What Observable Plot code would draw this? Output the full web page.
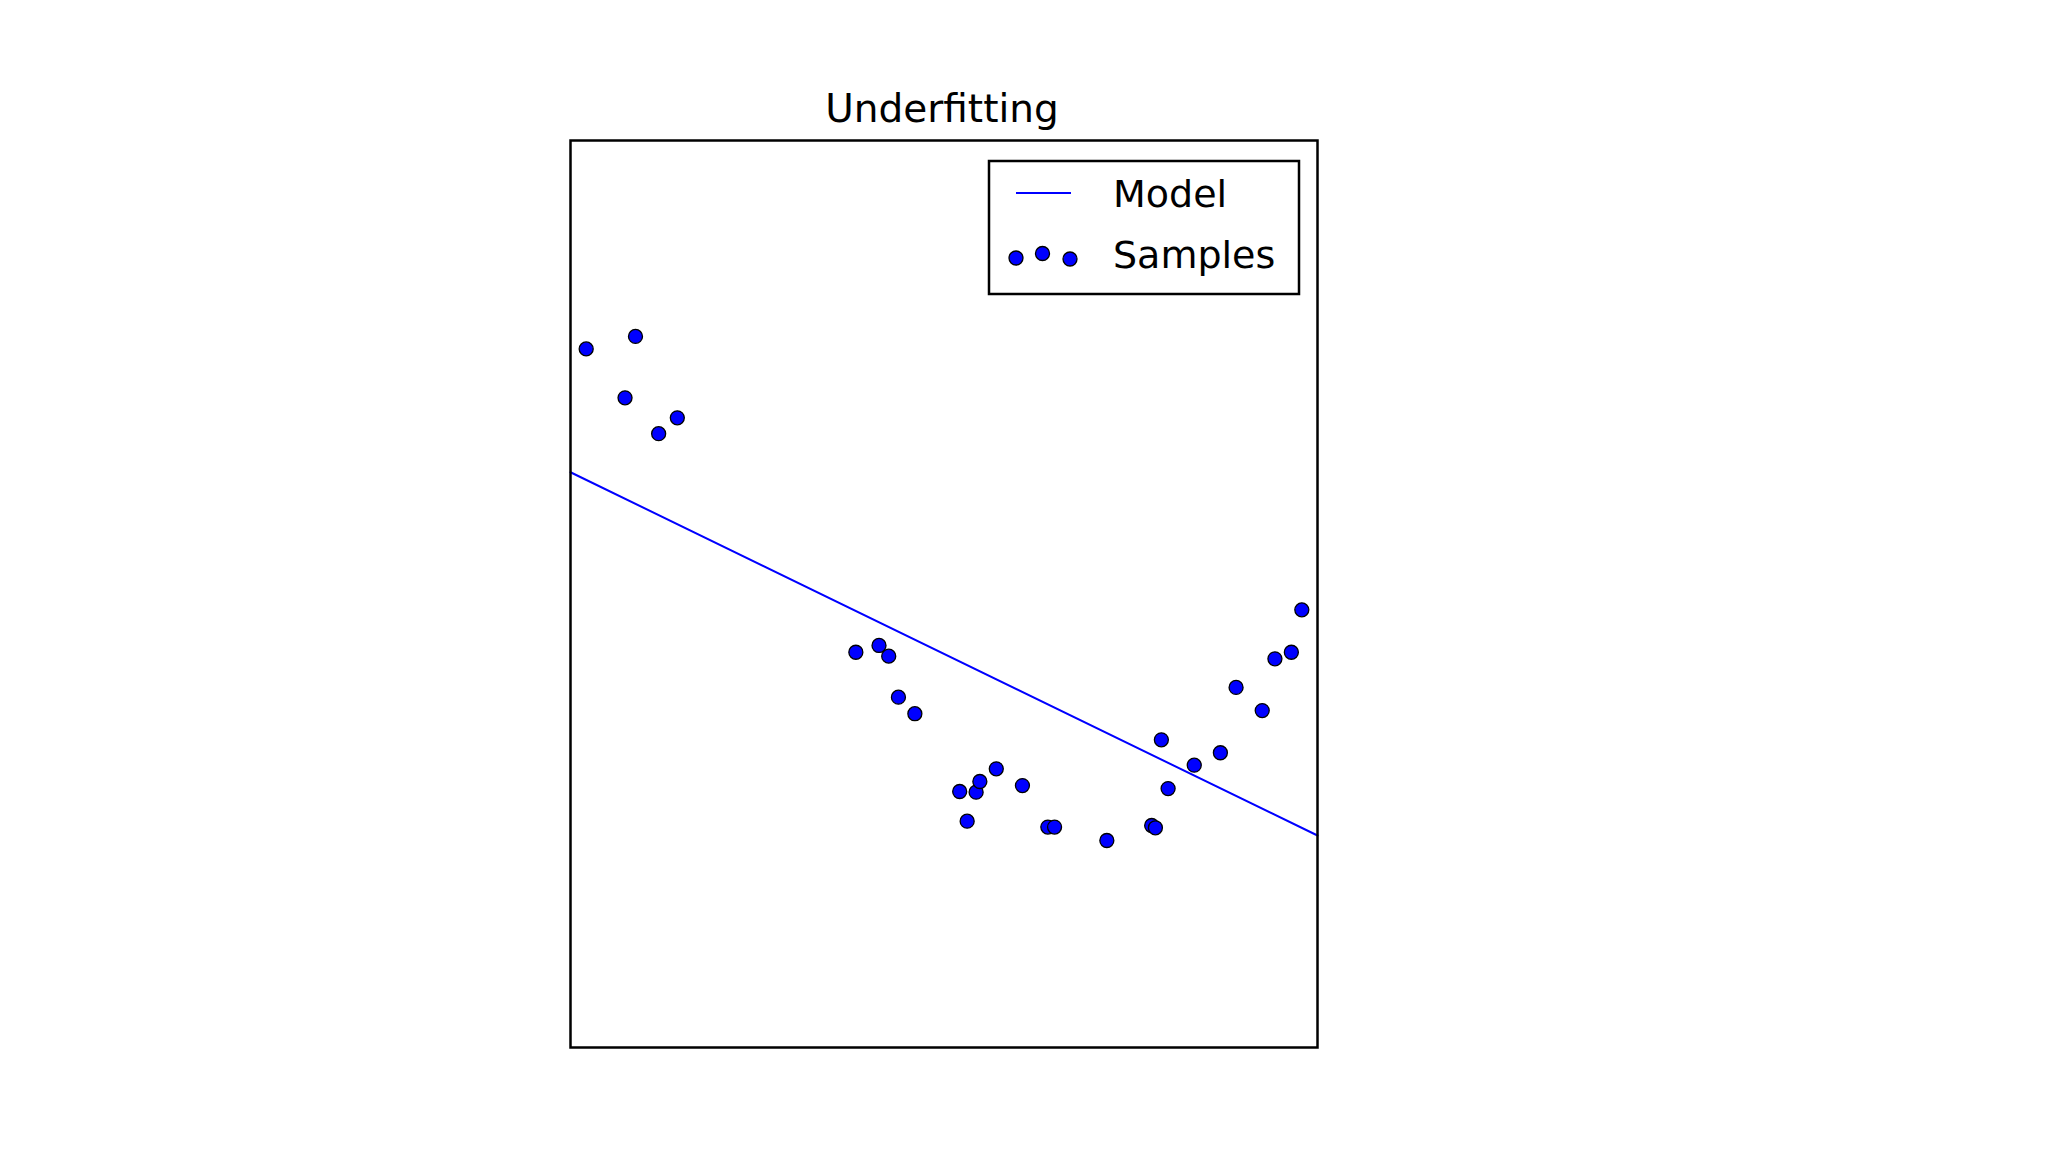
<!DOCTYPE html>
<html>
<head>
<meta charset="utf-8">
<script src="https://cdn.jsdelivr.net/npm/d3@7"></script>
<script src="https://cdn.jsdelivr.net/npm/@observablehq/plot@0.6"></script>
<style>
  html, body { margin: 0; padding: 0; background: #fff; }
  #wrap { position: relative; width: 2048px; height: 1152px; overflow: hidden; background: #fff; }
  #overlay { position: absolute; left: 0; top: 0; pointer-events: none; }
</style>
</head>
<body>
<div id="wrap"></div>
<script>
// ---- data ----
const chartTitle = "Underfitting";
const legendLabels = ["Model", "Samples"];

const sampleX = [0.021, 0.073, 0.087, 0.118, 0.143, 0.382, 0.413, 0.426, 0.439, 0.461,
                 0.521, 0.531, 0.543, 0.548, 0.570, 0.605, 0.639, 0.648, 0.718, 0.778,
                 0.783, 0.791, 0.800, 0.835, 0.870, 0.891, 0.926, 0.943, 0.965, 0.979];
const sampleY = [1.081, 0.865, 1.136, 0.707, 0.777, -0.257, -0.227, -0.274, -0.455, -0.528,
                 -0.871, -1.002, -0.874, -0.827, -0.771, -0.845, -1.028, -1.028, -1.087, -1.021,
                 -1.031, -0.643, -0.858, -0.755, -0.700, -0.412, -0.514, -0.286, -0.257, -0.070];

const modelX = [0, 1];
const modelY = [0.537, -1.065];

const samples = sampleX.map((x, i) => ({x, y: sampleY[i]}));
const model = modelX.map((x, i) => ({x, y: modelY[i]}));

const BLUE = "#0000ff";
const FONT = "'DejaVu Sans', sans-serif";

const chart = Plot.plot({
  width: 2048,
  height: 1152,
  marginLeft: 570,
  marginRight: 731,
  marginTop: 140,
  marginBottom: 105,
  style: {background: "#fff", fontFamily: FONT},
  x: {domain: [0, 1], axis: null},
  y: {domain: [-2, 2], axis: null},
  marks: [
    Plot.line(model, {x: "x", y: "y", stroke: BLUE, strokeWidth: 2}),
    Plot.dot(samples, {x: "x", y: "y", r: 7, fill: BLUE, stroke: "#000", strokeWidth: 1.3}),
    Plot.frame({stroke: "#000", strokeWidth: 2.5})
  ]
});

const wrap = document.getElementById("wrap");
wrap.appendChild(chart);

// ---- title and legend overlay ----
const ov = d3.select(wrap).append("svg")
  .attr("id", "overlay")
  .attr("width", 2048).attr("height", 1152)
  .style("font-family", FONT);

ov.append("text")
  .attr("x", 942).attr("y", 122)
  .attr("text-anchor", "middle")
  .attr("font-size", 39)
  .attr("fill", "#000")
  .text(chartTitle);

const lg = ov.append("g");
lg.append("rect")
  .attr("x", 989).attr("y", 161)
  .attr("width", 310).attr("height", 133)
  .attr("fill", "#fff").attr("stroke", "#000").attr("stroke-width", 2.5);

lg.append("line")
  .attr("x1", 1016).attr("x2", 1071)
  .attr("y1", 193).attr("y2", 193)
  .attr("stroke", BLUE).attr("stroke-width", 2);

[[1016, 258], [1042.5, 253.5], [1070, 259]].forEach(([cx, cy]) => {
  lg.append("circle").attr("cx", cx).attr("cy", cy).attr("r", 7)
    .attr("fill", BLUE).attr("stroke", "#000").attr("stroke-width", 1.3);
});

lg.append("text").attr("x", 1113).attr("y", 207)
  .attr("font-size", 38).attr("fill", "#000").text(legendLabels[0]);
lg.append("text").attr("x", 1113).attr("y", 268)
  .attr("font-size", 38).attr("fill", "#000").text(legendLabels[1]);
</script>
</body>
</html>
